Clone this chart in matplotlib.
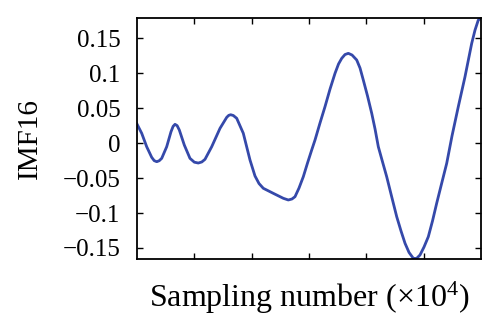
import numpy as np
import matplotlib
matplotlib.use("Agg")
import matplotlib.pyplot as plt

plt.rcParams['font.family'] = ['Liberation Serif', 'DejaVu Serif']
plt.rcParams['mathtext.fontset'] = 'custom'
plt.rcParams['mathtext.rm'] = 'Liberation Serif'
plt.rcParams['mathtext.it'] = 'Liberation Serif:italic'

# sampling number (x10^4) and IMF16 amplitude
samples = [0.000, 0.082, 0.169, 0.256, 0.300, 0.344, 0.388, 0.431, 0.518, 0.593,
           0.630, 0.663, 0.700, 0.738, 0.825, 0.924, 1.000, 1.069, 1.130, 1.186,
           1.303, 1.448, 1.565, 1.600, 1.634, 1.680, 1.739, 1.854, 1.971, 2.058,
           2.128, 2.203, 2.377, 2.552, 2.639, 2.703, 2.756, 2.826, 2.901, 2.974,
           3.047, 3.105, 3.192, 3.279, 3.367, 3.454, 3.515, 3.571, 3.628, 3.686,
           3.751, 3.832, 3.890, 3.947, 4.021, 4.094, 4.152, 4.209, 4.283, 4.355,
           4.439, 4.530, 4.605, 4.675, 4.745, 4.819, 4.875, 4.936, 5.006, 5.081,
           5.154, 5.227, 5.311, 5.402, 5.494, 5.604, 5.721, 5.838, 5.896, 5.953,
           6.000]
imf16 = [0.0271, 0.0139, -0.0053, -0.0204, -0.0252, -0.0267, -0.0253, -0.0219, -0.0053, 0.0161,
         0.0238, 0.0267, 0.0248, 0.0186, -0.0029, -0.0219, -0.0274, -0.0286, -0.0271, -0.0233,
         -0.0053, 0.0210, 0.0367, 0.0395, 0.0404, 0.0393, 0.0353, 0.0139, -0.0243, -0.0471,
         -0.0579, -0.0647, -0.0719, -0.0790, -0.0814, -0.0800, -0.0767, -0.0643, -0.0481, -0.0286,
         -0.0100, 0.0043, 0.0286, 0.0519, 0.0771, 0.0996, 0.1129, 0.1210, 0.1264, 0.1281,
         0.1257, 0.1186, 0.1071, 0.0900, 0.0671, 0.0424, 0.0200, -0.0053, -0.0271, -0.0481,
         -0.0757, -0.1053, -0.1257, -0.1433, -0.1564, -0.1647, -0.1650, -0.1600, -0.1486, -0.1339,
         -0.1114, -0.0861, -0.0586, -0.0290, 0.0100, 0.0519, 0.0947, 0.1424, 0.1614, 0.1757,
         0.1781]

yticks = [0.15, 0.1, 0.05, 0, -0.05, -0.1, -0.15]
ylabels = ['0.15', '0.1', '0.05', '0', '\u22120.05', '\u22120.1', '\u22120.15']
xticks = [1, 2, 3, 4, 5]

fig = plt.figure(figsize=(5, 3.29), dpi=100)
ax = fig.add_axes([0.274, 0.2128, 0.688, 0.7325])
ax.plot(samples, imf16, color='#3549aa', linewidth=2.0, solid_joinstyle='round')

ax.set_xlim(0, 6)
ax.set_ylim(-0.1657, 0.1786)
ax.set_xticks(xticks)
ax.set_xticklabels([])
ax.set_yticks(yticks)
ax.set_yticklabels(ylabels)
ax.tick_params(direction='in', length=4, width=1, top=True, right=True, labelsize=18, pad=12)
for s in ax.spines.values():
    s.set_linewidth(1.3)

ax.set_ylabel('IMF16', fontsize=21, labelpad=14)
ax.set_xlabel('Sampling number (\u00d710$^{4}$)', fontsize=23, labelpad=3)

fig.savefig('out.png', dpi=100)
